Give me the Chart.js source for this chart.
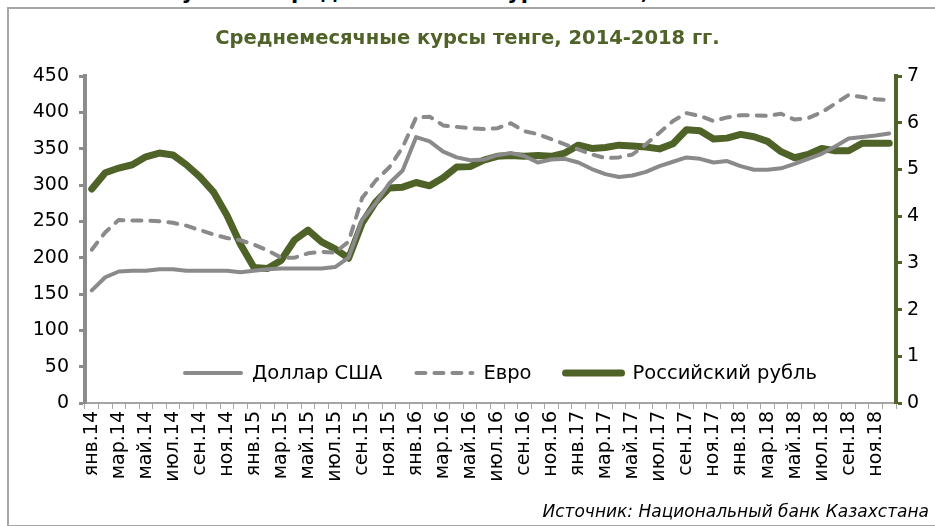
<!DOCTYPE html>
<html lang="ru">
<head>
<meta charset="utf-8">
<title>Среднемесячные курсы тенге, 2014-2018 гг.</title>
<script src="https://cdn.jsdelivr.net/npm/chart.js@4/dist/chart.umd.min.js"></script>
<style>
  html, body { margin: 0; padding: 0; background: #fff; }
  body { width: 935px; height: 526px; position: relative; overflow: hidden; font-family: "DejaVu Sans", Verdana, sans-serif; }
  #frame { position: absolute; left: 7px; top: 7px; width: 940px; height: 516px; border: 2px solid #a6a6a6; }
  #caption { position: absolute; left: 0; width: 958px; top: -20px; text-align: center; font-weight: bold; font-size: 21px; color: #000; }
  #source { position: absolute; right: 6px; top: 501px; font-style: italic; font-size: 17px; color: #000; }
  #wrap { position: absolute; left: 0; top: 0; width: 935px; height: 526px; }
</style>
</head>
<body>
<div id="frame"></div>
<div id="caption">Рисунок 2. Среднемесячные курсы тенге, 2014-2018 гг.</div>
<div id="wrap"><canvas id="chart" width="935" height="526"></canvas></div>
<div id="source">Источник: Национальный банк Казахстана</div>
<script>
'use strict';
/* global Chart */

// ─── Data ─────────────────────────────────────────────────────────────────────
const monthNames = ['янв', 'фев', 'мар', 'апр', 'май', 'июн', 'июл', 'авг', 'сен', 'окт', 'ноя', 'дек'];
const years      = ['14', '15', '16', '17', '18'];

// one label per month, янв.14 … дек.18
const months = [];
years.forEach((y) => monthNames.forEach((m) => months.push(m + '.' + y)));

// тенге за 1 доллар США (left axis)
const usd = [
  155, 173, 181, 182, 182, 184, 184, 182, 182, 182, 182, 180,
  182, 184, 185, 185, 185, 185, 187, 200, 252, 275, 302, 320,
  366, 360, 346, 338, 334, 335, 341, 344, 340, 331, 335, 336,
  331, 322, 315, 311, 313, 318, 326, 332, 338, 336, 331, 333,
  326, 321, 321, 323, 329, 336, 343, 353, 364, 366, 368, 371,
];

// тенге за 1 евро (left axis)
const eur = [
  211, 235, 252, 251, 251, 250, 248, 244, 238, 232, 227, 224,
  218, 210, 200, 200, 206, 208, 207, 222, 282, 306, 324, 352,
  393, 394, 382, 380, 378, 377, 378, 385, 374, 370, 363, 356,
  349, 342, 337, 338, 342, 356, 372, 388, 399, 395, 388, 393,
  396, 396, 395, 398, 390, 392, 400, 412, 424, 421, 418, 417,
];

// тенге за 1 российский рубль (right axis)
const rub = [
  4.58, 4.93, 5.03, 5.10, 5.27, 5.35, 5.31, 5.10, 4.84, 4.52, 4.02, 3.40,
  2.90, 2.88, 3.05, 3.49, 3.70, 3.45, 3.30, 3.10, 3.85, 4.30, 4.60, 4.62,
  4.72, 4.65, 4.82, 5.05, 5.06, 5.20, 5.28, 5.30, 5.28, 5.30, 5.28, 5.35,
  5.52, 5.45, 5.47, 5.52, 5.50, 5.48, 5.44, 5.55, 5.85, 5.83, 5.65, 5.67,
  5.75, 5.70, 5.60, 5.38, 5.25, 5.32, 5.45, 5.40, 5.40, 5.56, 5.56, 5.56,
];

// ─── Styling ──────────────────────────────────────────────────────────────────
const FONT  = '"DejaVu Sans", Verdana, sans-serif';
const GRAY  = '#8a8a8a';
const AXIS  = '#8c8c8c';
const GREEN = '#4f6228';

// Legend drawn inside the plot, near its bottom edge (as in the Excel original)
const innerLegend = {
  id: 'innerLegend',
  afterDatasetsDraw(chart) {
    const { ctx, chartArea } = chart;
    const y = chartArea.bottom - 30;
    let x   = chartArea.left + 98;
    ctx.save();
    ctx.font         = '19.5px ' + FONT;
    ctx.textBaseline = 'middle';
    ctx.fillStyle    = '#000';
    chart.data.datasets.forEach((ds) => {
      ctx.beginPath();
      ctx.lineCap     = 'round';
      ctx.lineWidth   = ds.borderWidth;
      ctx.strokeStyle = ds.borderColor;
      ctx.setLineDash(ds.borderDash || []);
      ctx.moveTo(x + 2, y);
      ctx.lineTo(x + 58, y);
      ctx.stroke();
      ctx.setLineDash([]);
      x += 69;
      ctx.fillText(ds.label, x, y + 1);
      x += ctx.measureText(ds.label).width + 32;
    });
    ctx.restore();
  },
};

// ─── Chart ────────────────────────────────────────────────────────────────────
new Chart(document.getElementById('chart'), {
  type: 'line',
  data: {
    labels: months,
    datasets: [
      {
        label: 'Доллар США', data: usd, yAxisID: 'y',
        borderColor: GRAY, borderWidth: 4,
      },
      {
        label: 'Евро', data: eur, yAxisID: 'y',
        borderColor: GRAY, borderWidth: 4, borderDash: [9, 9], borderCapStyle: 'round',
      },
      {
        label: 'Российский рубль', data: rub, yAxisID: 'y1',
        borderColor: GREEN, borderWidth: 7,
      },
    ],
  },
  options: {
    responsive: false,
    animation: false,
    layout: { padding: { top: 6, left: 0, right: 0, bottom: 0 } },
    elements: {
      point: { radius: 0 },
      line: { tension: 0, borderJoinStyle: 'round', borderCapStyle: 'round', fill: false },
    },
    plugins: {
      legend: { display: false },
      tooltip: { enabled: false },
      title: {
        display: true,
        text: 'Среднемесячные курсы тенге, 2014-2018 гг.',
        color: GREEN,
        font: { family: FONT, size: 19.5, weight: 'bold', lineHeight: 1 },
        padding: { top: 23, bottom: 27.5 },
      },
    },
    scales: {
      x: {
        offset: true,
        border: { display: true, color: '#a6a6a6', width: 2 },
        grid: { offset: true, drawOnChartArea: false, drawTicks: true, tickLength: 6, tickWidth: 1, tickColor: '#a6a6a6' },
        ticks: {
          autoSkip: false, maxRotation: 90, minRotation: 90, padding: 2,
          color: '#000', font: { family: FONT, size: 19 },
          callback: (v, i) => (i % 2 === 0 ? months[i] : ''),
        },
        afterFit: (s) => { s.height = 123; },
      },
      y: {
        position: 'left', min: 0, max: 450,
        border: { display: true, color: AXIS, width: 4 },
        grid: { drawOnChartArea: false, tickLength: 6, tickWidth: 3, tickColor: AXIS },
        ticks: { stepSize: 50, padding: 10, color: '#000', font: { family: FONT, size: 19 } },
        afterFit: (s) => { s.width = 85; },
      },
      y1: {
        position: 'right', min: 0, max: 7,
        border: { display: true, color: GREEN, width: 4 },
        grid: { drawOnChartArea: false, tickLength: 6, tickWidth: 3, tickColor: GREEN },
        ticks: { stepSize: 1, padding: 5, color: '#000', font: { family: FONT, size: 19 } },
        afterFit: (s) => { s.width = 39; },
      },
    },
  },
  plugins: [innerLegend],
});
</script>
</body>
</html>
